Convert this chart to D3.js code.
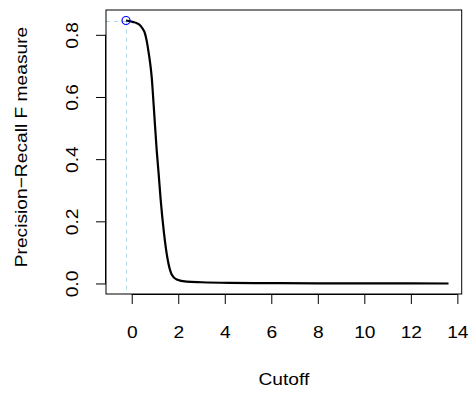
<!DOCTYPE html>
<html>
<head>
<meta charset="utf-8">
<script src="https://cdn.jsdelivr.net/npm/d3@7/dist/d3.min.js"></script>
<style>
html, body { margin: 0; padding: 0; background: #fff; }
svg { display: block; }
text { font-family: "Liberation Sans", Arial, Helvetica, sans-serif; font-size: 17px; fill: #000; }
</style>
</head>
<body>
<svg id="chart" width="473" height="394"></svg>
<script>
// ---- data ----
const cutoffExtent = [-0.54, 13.62];
const cutoffs = [-0.245, 0.07, 0.2, 0.356, 0.45, 0.571, 0.64, 0.712, 0.79, 0.858, 0.957, 1.073, 1.16, 1.245, 1.386, 1.545, 1.717, 1.93, 2.36, 3.0, 4.22, 6, 8, 10, 12, 13.62];
const fMeasure = [0.846, 0.841, 0.838, 0.831, 0.822, 0.804, 0.782, 0.75, 0.71, 0.664, 0.558, 0.429, 0.35, 0.269, 0.163, 0.077, 0.029, 0.013, 0.006, 0.004, 0.002, 0.001, 0.0006, 0.0003, 0.0001, 0];
const bestCutoff = -0.245;
const bestF = 0.846;
const xTicks = [0, 2, 4, 6, 8, 10, 12, 14];
const yTicks = [0.0, 0.2, 0.4, 0.6, 0.8];
const xLabel = "Cutoff";
const yLabel = "Precision\u2212Recall F measure";

// ---- layout ----
const plot = { left: 106, right: 461.7, top: 10, bottom: 294 };
const SX = 1.13; // horizontal glyph stretch to match reference text widths
function pad(ext) { const r = ext[1] - ext[0]; return [ext[0] - 0.04 * r, ext[1] + 0.04 * r]; }
const yExtent = [d3.min(fMeasure), d3.max(fMeasure)];

const x = d3.scaleLinear().domain(pad(cutoffExtent)).range([plot.left, plot.right]);
const y = d3.scaleLinear().domain(pad(yExtent)).range([plot.bottom, plot.top]);

const svg = d3.select("#chart");

const bx = Math.round(x(bestCutoff)) + 0.5;
const by = Math.round(y(bestF)) + 0.5;

// dashed guide lines
svg.append("line")
  .attr("x1", plot.left).attr("x2", bx)
  .attr("y1", by).attr("y2", by)
  .attr("stroke", "#ADD8E6").attr("stroke-width", 1).attr("stroke-dasharray", "4,4");
svg.append("line")
  .attr("x1", bx).attr("x2", bx)
  .attr("y1", by).attr("y2", plot.bottom)
  .attr("stroke", "#ADD8E6").attr("stroke-width", 1).attr("stroke-dasharray", "4,4");

// curve
const data = cutoffs.map((c, i) => [c, fMeasure[i]]);
svg.append("path")
  .datum(data)
  .attr("fill", "none")
  .attr("stroke", "#000")
  .attr("stroke-width", 2.2)
  .attr("stroke-linejoin", "round")
  .attr("d", d3.line().x(d => x(d[0])).y(d => y(d[1])).curve(d3.curveMonotoneX));

// optimum point
svg.append("circle")
  .attr("cx", x(bestCutoff)).attr("cy", y(bestF)).attr("r", 4)
  .attr("fill", "none").attr("stroke", "#0000FF").attr("stroke-width", 1.2);

// box
svg.append("rect")
  .attr("x", plot.left).attr("y", plot.top)
  .attr("width", plot.right - plot.left).attr("height", plot.bottom - plot.top)
  .attr("fill", "none").attr("stroke", "#000").attr("stroke-width", 1);

// x axis
const xAxis = d3.axisBottom(x).tickValues(xTicks).tickSize(10).tickPadding(5).tickFormat(d3.format("d"));
const gx = svg.append("g").attr("transform", `translate(0,${plot.bottom})`).call(xAxis);
gx.attr("font-family", null).attr("font-size", null);
gx.select(".domain").attr("d", `M${x(xTicks[0])},0.5H${x(xTicks[xTicks.length-1])}`).attr("stroke", "#000");
gx.selectAll(".tick line").attr("stroke", "#000");
gx.selectAll(".tick text").attr("y", null).attr("dy", null)
  .attr("transform", `translate(0,44) scale(${SX},1)`);

// y axis
const yAxis = d3.axisLeft(y).tickValues(yTicks).tickSize(10).tickFormat(d3.format(".1f"));
const gy = svg.append("g").attr("transform", `translate(${plot.left},0)`).call(yAxis);
gy.attr("font-family", null).attr("font-size", null);
gy.select(".domain").attr("d", `M-0.5,${y(yTicks[0])}V${y(yTicks[yTicks.length-1])}`).attr("stroke", "#000");
gy.selectAll(".tick line").attr("stroke", "#000");
gy.selectAll(".tick text")
  .attr("x", null).attr("dy", null)
  .attr("text-anchor", "middle")
  .attr("transform", `translate(-28,0) rotate(-90) scale(${SX},1)`);

// axis titles
svg.append("text")
  .attr("transform", `translate(${(plot.left + plot.right) / 2},385) scale(${SX},1)`)
  .attr("text-anchor", "middle").text(xLabel);
svg.append("text")
  .attr("transform", `translate(27,147) rotate(-90) scale(${SX},1)`)
  .attr("text-anchor", "middle").text(yLabel);
</script>
</body>
</html>
